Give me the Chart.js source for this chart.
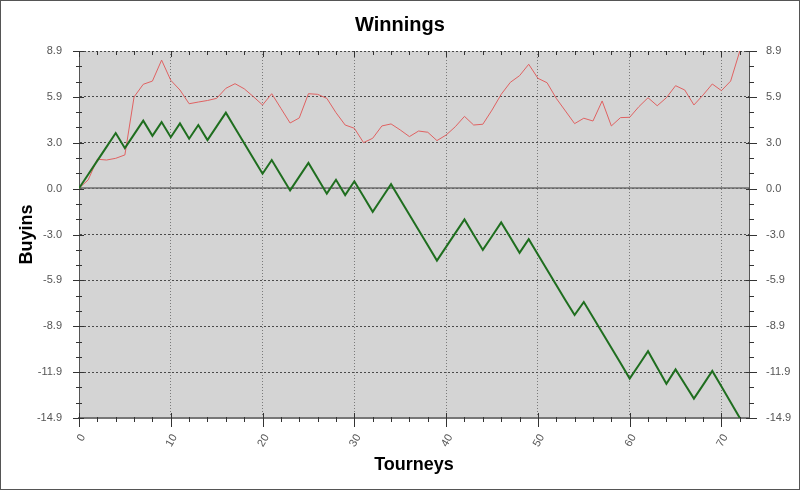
<!DOCTYPE html>
<html><head><meta charset="utf-8">
<script src="https://cdn.jsdelivr.net/npm/chart.js@4"></script>
<style>
html,body{margin:0;padding:0;background:#fff;}
#wrap{position:relative;width:800px;height:490px;}
#frame{position:absolute;left:0;top:0;width:800px;height:490px;box-sizing:border-box;border:1px solid #555;pointer-events:none;}
canvas{display:block;}
</style></head><body>
<div id="wrap"><canvas id="c" width="800" height="490"></canvas><div id="frame"></div></div>
<script>
// ---- data ----
const tourneys = [0,1,2,3,4,5,6,7,8,9,10,11,12,13,14,15,16,17,18,19,20,21,22,23,24,25,26,27,28,29,30,31,32,33,34,35,36,37,38,39,40,41,42,43,44,45,46,47,48,49,50,51,52,53,54,55,56,57,58,59,60,61,62,63,64,65,66,67,68,69,70,71,72];
const greenBuyins = [0,0.89,1.79,2.68,3.58,2.6,3.49,4.38,3.4,4.29,3.31,4.2,3.21,4.1,3.12,4.01,4.9,3.91,2.92,1.93,0.94,1.83,0.84,-0.14,0.75,1.64,0.65,-0.35,0.55,-0.44,0.45,-0.54,-1.53,-0.63,0.26,-0.73,-1.72,-2.71,-3.7,-4.69,-3.8,-2.91,-2.02,-3.01,-4.0,-3.11,-2.22,-3.2,-4.19,-3.3,-4.29,-5.28,-6.27,-7.26,-8.22,-7.38,-8.36,-9.35,-10.34,-11.34,-12.34,-11.46,-10.57,-11.62,-12.68,-11.75,-12.7,-13.64,-12.75,-11.85,-12.86,-13.88,-14.9];
const redBuyins = [0,0.54,1.88,1.83,1.94,2.16,5.92,6.74,6.95,8.31,7.0,6.37,5.48,5.59,5.69,5.83,6.48,6.78,6.45,5.94,5.4,6.13,5.18,4.23,4.56,6.13,6.09,5.83,4.9,4.1,3.89,2.96,3.24,4.04,4.17,3.78,3.35,3.71,3.63,3.09,3.45,3.99,4.66,4.1,4.15,5.07,6.09,6.87,7.3,8.04,7.13,6.84,5.83,5.01,4.19,4.54,4.36,5.66,4.04,4.58,4.6,5.29,5.87,5.35,5.87,6.65,6.37,5.4,6.05,6.76,6.33,6.95,8.9];
const xTickValues = [0,10,20,30,40,50,60,70];
const yTickLabels = ['-14.9','-11.9','-8.9','-5.9','-3.0','0.0','3.0','5.9','8.9'];
const yMin = -14.9, yMax = 8.9, xMin = 0, xMax = 73;
const xMinorStep = 2, yMinorPerMajor = 3;

const yTickValues = yTickLabels.map((l,i)=> yMin + i*(yMax-yMin)/(yTickLabels.length-1));

Chart.defaults.font.family = '"Liberation Sans", Arial, sans-serif';

const plotDecor = {
  id:'plotDecor',
  beforeDraw(chart){
    const {ctx, chartArea:a} = chart;
    ctx.save(); ctx.fillStyle='#d4d4d4';
    ctx.fillRect(a.left,a.top,a.right-a.left,a.bottom-a.top); ctx.restore();
  },
  beforeDatasetsDraw(chart){
    const {ctx, chartArea:a, scales} = chart;
    const y = Math.round(scales.y.getPixelForValue(0));
    ctx.save(); ctx.strokeStyle='#6e6e6e'; ctx.lineWidth=1.5;
    ctx.beginPath(); ctx.moveTo(a.left,y); ctx.lineTo(a.right,y); ctx.stroke(); ctx.restore();
  },
  afterDraw(chart){
    const {ctx, chartArea:a, scales} = chart;
    ctx.save(); ctx.strokeStyle='#333'; ctx.lineWidth=1;
    const line=(x1,y1,x2,y2)=>{ctx.beginPath();ctx.moveTo(x1,y1);ctx.lineTo(x2,y2);ctx.stroke();};
    for (let v = xMin; v <= xMax; v += xMinorStep) {
      const px = Math.round(scales.x.getPixelForValue(v)) + 0.5;
      const major = xTickValues.includes(v);
      if (major) { line(px,a.bottom-5,px,a.bottom+9); line(px,a.top,px,a.top+6); }
      else { line(px,a.bottom-1,px,a.bottom+4); line(px,a.top,px,a.top+4); }
    }
    for (let i=0;i<yTickValues.length;i++){
      const py = Math.round(scales.y.getPixelForValue(yTickValues[i])) + 0.5;
      line(a.left-6,py,a.left+5,py); line(a.right-3,py,a.right+8,py);
      if (i < yTickValues.length-1) {
        for (let k=1;k<yMinorPerMajor;k++){
          const v = yTickValues[i] + k*(yTickValues[i+1]-yTickValues[i])/yMinorPerMajor;
          const pm = Math.round(scales.y.getPixelForValue(v)) + 0.5;
          line(a.left-3,pm,a.left+3,pm); line(a.right,pm,a.right+5,pm);
        }
      }
    }
    ctx.restore();
  }
};

const tickFont = {size:11};
new Chart(document.getElementById('c'), {
  type:'line',
  data:{
    datasets:[
      {data: tourneys.map((t,i)=>({x:t,y:greenBuyins[i]})), borderColor:'#1f6e1f', borderWidth:2, pointRadius:0, tension:0, fill:false},
      {data: tourneys.map((t,i)=>({x:t,y:redBuyins[i]})), borderColor:'#e06262', borderWidth:1, pointRadius:0, tension:0, fill:false}
    ]
  },
  options:{
    responsive:false, animation:false, devicePixelRatio:1,
    layout:{padding:0},
    plugins:{
      legend:{display:false}, tooltip:{enabled:false},
      title:{display:true, text:'Winnings', color:'#000', font:{size:20, weight:'bold'}, padding:{top:13,bottom:14}}
    },
    scales:{
      x:{type:'linear', position:'bottom', min:xMin, max:xMax,
        afterBuildTicks:s=>{s.ticks = xTickValues.map(v=>({value:v}));},
        afterFit:s=>{s.height=72;},
        ticks:{autoSkip:false, minRotation:60, maxRotation:60, padding:14, labelOffset:4, color:'#555', font:tickFont, callback:v=>String(v)},
        grid:{color:'#7a7a7a', lineWidth:1, drawTicks:false},
        border:{display:true, color:'#777', width:2, dash:[1,2]},
        title:{display:true, text:'Tourneys', color:'#000', font:{size:18, weight:'bold'}, padding:{top:0,bottom:14}}
      },
      y:{type:'linear', position:'left', min:yMin, max:yMax,
        afterBuildTicks:s=>{s.ticks = yTickValues.map(v=>({value:v}));},
        afterFit:s=>{s.width=79;},
        ticks:{autoSkip:false, padding:17, color:'#555', font:tickFont, callback:(v,i)=>yTickLabels[i]},
        grid:{color:'#4a4a4a', lineWidth:1, drawTicks:false},
        border:{display:true, color:'#555', width:1, dash:[2,2]},
        title:{display:true, text:'Buyins', color:'#000', font:{size:18, weight:'bold'}, padding:{top:16,bottom:0}}
      },
      y2:{type:'linear', position:'right', min:yMin, max:yMax,
        afterBuildTicks:s=>{s.ticks = yTickValues.map(v=>({value:v}));},
        afterFit:s=>{s.width=51;},
        ticks:{autoSkip:false, padding:17, color:'#555', font:tickFont, callback:(v,i)=>yTickLabels[i]},
        grid:{drawOnChartArea:false, drawTicks:false},
        border:{display:true, color:'#555', width:1}
      }
    }
  },
  plugins:[plotDecor]
});
</script>
</body></html>
